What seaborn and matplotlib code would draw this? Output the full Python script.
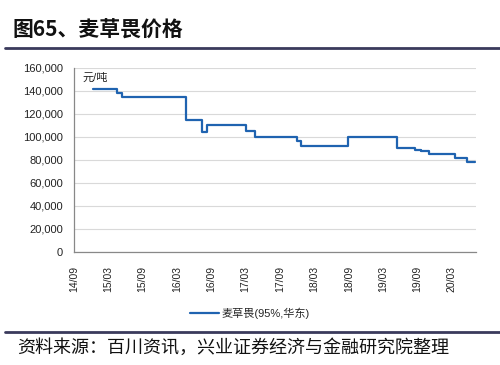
import matplotlib
matplotlib.use("Agg")
import matplotlib.pyplot as plt
from matplotlib.lines import Line2D
from matplotlib.ticker import FuncFormatter
import seaborn as sns
import pandas as pd

dates = ["2014-12-10", "2015-04-15", "2015-05-15", "2016-04-17", "2016-07-10",
         "2016-08-10", "2017-03-01", "2017-04-22", "2017-11-27", "2017-12-20",
         "2018-08-25", "2019-05-15", "2019-08-18", "2019-09-22", "2019-11-03",
         "2020-03-20", "2020-05-20", "2020-07-05"]
prices = [142000, 138000, 135000, 115000, 104000,
          110000, 105000, 100000, 96000, 92000,
          100000, 90000, 89000, 88000, 85000,
          82000, 78000, 78000]
tick_dates = ["2014-09-01", "2015-03-01", "2015-09-01", "2016-03-01", "2016-09-01",
              "2017-03-01", "2017-09-01", "2018-03-01", "2018-09-01", "2019-03-01",
              "2019-09-01", "2020-03-01"]
tick_labels = ["14/09", "15/03", "15/09", "16/03", "16/09", "17/03", "17/09",
               "18/03", "18/09", "19/03", "19/09", "20/03"]
series_name = "麦草畏(95%,华东)"

sns.set_theme(style="white")
plt.rcParams['font.family'] = ['Liberation Sans', 'Noto Sans CJK SC']

df = pd.DataFrame({"date": pd.to_datetime(dates), "price": prices})

fig = plt.figure(figsize=(5, 3.65), dpi=100)
ax = fig.add_axes([0.148, 0.310, 0.804, 0.504])
color = "#1F63B0"
sns.lineplot(data=df, x="date", y="price", ax=ax, color=color, linewidth=1.6,
             drawstyle="steps-post", legend=False)

ax.set_xlim(pd.Timestamp("2014-09-01"), pd.Timestamp("2020-07-08"))
ax.set_ylim(0, 160000)
ax.set_yticks(range(0, 160001, 20000))
ax.yaxis.set_major_formatter(FuncFormatter(lambda v, p: f"{int(v):,}"))
ax.set_xticks(pd.to_datetime(tick_dates))
ax.set_xticklabels(tick_labels, rotation=90, fontsize=7.5,
                   family=['Liberation Sans Narrow', 'Liberation Sans'])
ax.set_xlabel("")
ax.set_ylabel("")
ax.grid(axis="y", color="#D9D9D9", linewidth=0.8)
ax.set_axisbelow(True)
for s in ["top", "right"]:
    ax.spines[s].set_visible(False)
for s in ["left", "bottom"]:
    ax.spines[s].set_color("#888888")
    ax.spines[s].set_linewidth(0.9)
ax.tick_params(axis="y", labelsize=8, colors="#222222", length=3,
               direction="out", width=0.8, pad=5)
ax.tick_params(axis="x", colors="#222222", length=4,
               direction="out", width=0.8, pad=6)
ax.tick_params(axis="both", color="#888888")
ax.text(0.022, 0.975, "元/吨", transform=ax.transAxes, fontsize=8,
        va="top", ha="left", color="#222222")

handle = Line2D([], [], color=color, linewidth=1.6)
fig.legend([handle], [series_name], loc="center", bbox_to_anchor=(0.5, 0.142),
           frameon=False, fontsize=8, handlelength=2.6, handletextpad=0.2)

fig.text(0.026, 0.918, "图65、麦草畏价格", fontsize=15, fontweight="bold",
         family=["Noto Sans CJK SC"], va="center", ha="left", color="#111111")
fig.add_artist(Line2D([0.01, 1.0], [1 - 47.5 / 365, 1 - 47.5 / 365],
                      transform=fig.transFigure, color="#3A3A5C", linewidth=2))
fig.add_artist(Line2D([0.01, 1.0], [1 - 332 / 365, 1 - 332 / 365],
                      transform=fig.transFigure, color="#3A3A5C", linewidth=2))
fig.text(0.034, 1 - 348 / 365, "资料来源：百川资讯，兴业证券经济与金融研究院整理",
         fontsize=13, family=["Noto Sans CJK SC"], va="center", ha="left",
         color="#111111")

fig.savefig("out.png", dpi=100)
